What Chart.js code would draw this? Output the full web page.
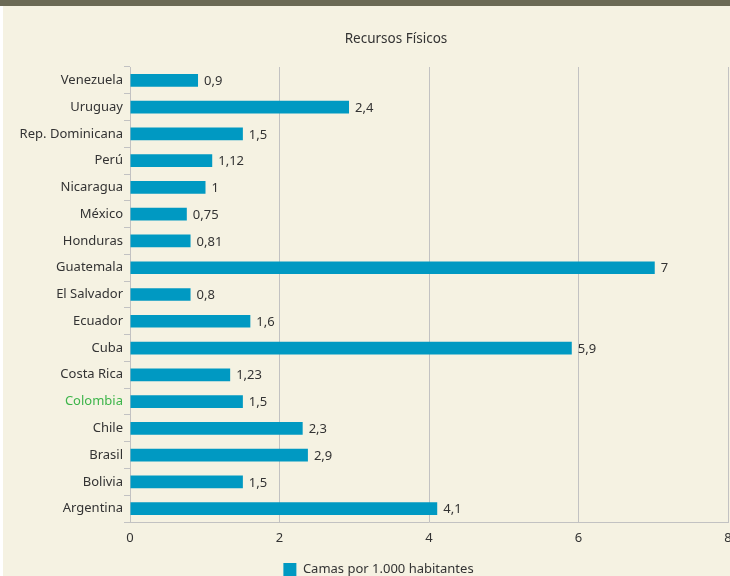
<!DOCTYPE html>
<html>
<head>
<meta charset="utf-8">
<script src="https://cdn.jsdelivr.net/npm/chart.js@4/dist/chart.umd.min.js"></script>
<style>
  html, body { margin: 0; padding: 0; background: #f5f2e2; }
  #wrap { width: 730px; height: 576px; }
</style>
</head>
<body>
<div id="wrap"><canvas id="chart"></canvas></div>
<script>
// Chart data
const titleText = "Recursos Físicos";
const seriesName = "Camas por 1.000 habitantes";
const countries = ["Venezuela", "Uruguay", "Rep. Dominicana", "Perú", "Nicaragua", "México",
  "Honduras", "Guatemala", "El Salvador", "Ecuador", "Cuba", "Costa Rica", "Colombia",
  "Chile", "Brasil", "Bolivia", "Argentina"];
// bar lengths as drawn in the picture
const beds = [0.91, 2.93, 1.51, 1.1, 1.01, 0.76, 0.81, 7.02, 0.81, 1.61, 5.91, 1.34, 1.51,
  2.31, 2.38, 1.51, 4.11];
// value labels as printed next to the bars
const bedLabels = ["0,9", "2,4", "1,5", "1,12", "1", "0,75", "0,81", "7", "0,8", "1,6", "5,9",
  "1,23", "1,5", "2,3", "2,9", "1,5", "4,1"];
const xTicks = [0, 2, 4, 6, 8];

const textColor = "#333333";
const barColor = "#0099c2";
const gridColor = "#c2c2c2";
const fontFamily = "'Noto Sans', 'Liberation Sans', sans-serif";

// background, top band and title
const backdrop = {
  id: "backdrop",
  afterLayout(chart) {
    // let the long category names run past the left padding
    chart.scales.y.left = 0;
  },
  beforeDraw(chart) {
    const ctx = chart.ctx;
    ctx.save();
    ctx.fillStyle = "#f5f2e2";
    ctx.fillRect(0, 0, chart.width, chart.height);
    ctx.fillStyle = "#ffffff";
    ctx.fillRect(0, 0, 3, chart.height);
    ctx.fillStyle = "#6b6a55";
    ctx.fillRect(0, 0, chart.width, 6);
    ctx.fillStyle = textColor;
    ctx.font = "13.5px " + fontFamily;
    ctx.textAlign = "center";
    ctx.textBaseline = "middle";
    ctx.fillText(titleText, 396, 39);
    ctx.restore();
  }
};

// value labels at the end of each bar
const valueLabels = {
  id: "valueLabels",
  afterDatasetsDraw(chart) {
    const ctx = chart.ctx;
    const meta = chart.getDatasetMeta(0);
    ctx.save();
    ctx.fillStyle = textColor;
    ctx.font = "13px " + fontFamily;
    ctx.textAlign = "left";
    ctx.textBaseline = "middle";
    meta.data.forEach(function(bar, i) {
      ctx.fillText(bedLabels[i], bar.x + 6, bar.y + 1);
    });
    ctx.restore();
  }
};

new Chart(document.getElementById("chart"), {
  type: "bar",
  data: {
    labels: countries,
    datasets: [{
      label: seriesName,
      data: beds,
      backgroundColor: barColor,
      borderWidth: 0,
      barPercentage: 0.95,
      categoryPercentage: 0.5
    }]
  },
  options: {
    indexAxis: "y",
    responsive: true,
    maintainAspectRatio: false,
    animation: false,
    layout: { padding: { left: 29, right: 2, top: 67, bottom: -10 } },
    plugins: {
      title: { display: false },
      tooltip: { enabled: false },
      legend: {
        position: "bottom",
        labels: {
          color: textColor,
          font: { size: 13, family: fontFamily },
          boxWidth: 13,
          boxHeight: 13,
          padding: 1
        }
      }
    },
    scales: {
      x: {
        min: 0,
        max: 8,
        afterBuildTicks(scale) { scale.ticks = xTicks.map(v => ({ value: v })); },
        afterFit(scale) { scale.height = 40; scale.paddingRight = 0; scale.paddingLeft = 0; },
        grid: { color: gridColor, drawTicks: false, lineWidth: 1 },
        border: { color: gridColor },
        ticks: {
          color: textColor,
          font: { size: 13, family: fontFamily },
          padding: 8
        }
      },
      y: {
        afterFit(scale) { scale.width = 101; },
        grid: { display: true, drawOnChartArea: false, color: gridColor, tickLength: 6, offset: true },
        border: { color: gridColor },
        ticks: {
          color: function(c) { return countries[c.index] === "Colombia" ? "#3db54a" : textColor; },
          font: { size: 13, family: fontFamily },
          padding: 1
        }
      }
    }
  },
  plugins: [backdrop, valueLabels]
});
</script>
</body>
</html>
